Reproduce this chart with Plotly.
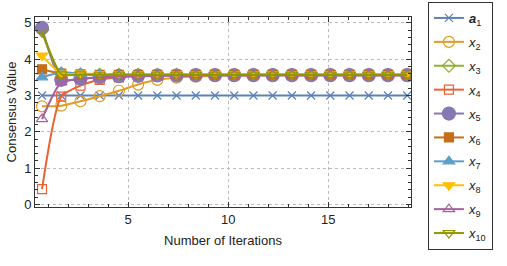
import plotly.graph_objects as go

iterations = [0.70, 1.66, 2.62, 3.58, 4.54, 5.50, 6.46, 7.42, 8.38, 9.34,
              10.30, 11.26, 12.22, 13.18, 14.14, 15.10, 16.06, 17.02, 17.98, 18.94]

a1 = [3.00, 3.00, 3.00, 3.00, 3.00, 3.00, 3.00, 3.00, 3.00, 3.00,
      3.00, 3.00, 3.00, 3.00, 3.00, 3.00, 3.00, 3.00, 3.00, 3.00]
x2 = [2.70, 2.72, 2.84, 2.98, 3.13, 3.30, 3.43, 3.49, 3.52, 3.54,
      3.55, 3.55, 3.56, 3.56, 3.56, 3.56, 3.56, 3.56, 3.56, 3.56]
x3 = [4.80, 3.60, 3.58, 3.57, 3.57, 3.57, 3.57, 3.57, 3.57, 3.57,
      3.57, 3.57, 3.57, 3.57, 3.57, 3.57, 3.57, 3.57, 3.57, 3.57]
x4 = [0.42, 2.97, 3.27, 3.43, 3.50, 3.53, 3.54, 3.55, 3.55, 3.56,
      3.56, 3.56, 3.56, 3.56, 3.56, 3.56, 3.56, 3.56, 3.56, 3.56]
x5 = [4.86, 3.43, 3.46, 3.50, 3.53, 3.54, 3.55, 3.55, 3.56, 3.56,
      3.56, 3.56, 3.56, 3.56, 3.56, 3.56, 3.56, 3.56, 3.56, 3.56]
x6 = [3.72, 3.60, 3.58, 3.57, 3.57, 3.57, 3.57, 3.57, 3.57, 3.57,
      3.57, 3.57, 3.57, 3.57, 3.57, 3.57, 3.57, 3.57, 3.57, 3.57]
x7 = [3.50, 3.64, 3.60, 3.58, 3.57, 3.57, 3.57, 3.57, 3.57, 3.57,
      3.57, 3.57, 3.57, 3.57, 3.57, 3.57, 3.57, 3.57, 3.57, 3.57]
x8 = [4.10, 3.60, 3.60, 3.59, 3.58, 3.58, 3.58, 3.58, 3.58, 3.58,
      3.58, 3.58, 3.58, 3.58, 3.58, 3.58, 3.58, 3.58, 3.58, 3.58]
x9 = [2.35, 3.36, 3.45, 3.50, 3.53, 3.54, 3.55, 3.55, 3.56, 3.56,
      3.56, 3.56, 3.56, 3.56, 3.56, 3.56, 3.56, 3.56, 3.56, 3.56]
x10 = [4.74, 3.58, 3.58, 3.57, 3.57, 3.57, 3.57, 3.57, 3.57, 3.57,
       3.57, 3.57, 3.57, 3.57, 3.57, 3.57, 3.57, 3.57, 3.57, 3.57]

series_names = ["<b><i>a</i></b><sub>1</sub>", "<i>x</i><sub>2</sub>", "<i>x</i><sub>3</sub>",
                "<i>x</i><sub>4</sub>", "<i>x</i><sub>5</sub>", "<i>x</i><sub>6</sub>",
                "<i>x</i><sub>7</sub>", "<i>x</i><sub>8</sub>", "<i>x</i><sub>9</sub>",
                "<i>x</i><sub>10</sub>"]
series_values = [a1, x2, x3, x4, x5, x6, x7, x8, x9, x10]
colors = ["#5E81B5", "#E19C24", "#8FB032", "#EB6235", "#8778B3",
          "#C56E1A", "#5D9EC7", "#FFBF00", "#A5609D", "#929600"]
symbols = ["x-thin-open", "circle-open", "diamond-open", "square-open", "circle",
           "square", "triangle-up", "triangle-down", "triangle-up-open", "triangle-down-open"]
sizes = [8, 11, 10, 9, 13, 9, 10, 10, 10, 10]

fig = go.Figure()
for i, (name, vals, col, sym, sz) in enumerate(zip(series_names, series_values, colors, symbols, sizes)):
    fig.add_trace(go.Scatter(
        x=iterations, y=vals, name=name, mode="lines+markers",
        line=dict(color=col, width=2, shape="spline", smoothing=0.6),
        marker=dict(symbol=sym, size=sz, color=col,
                    line=dict(color=col, width=1.2)),
        legendgroup="g%d" % i,
    ))

axis_common = dict(
    showline=True, linecolor="#333333", linewidth=1, mirror="ticks",
    ticks="inside", ticklen=5, tickcolor="#333333",
    showgrid=True, gridcolor="#BBBBBB", griddash="dot", gridwidth=1,
    zeroline=False,
    tickfont=dict(family="Liberation Sans, Arial", size=13, color="#222222"),
)

fig.update_layout(
    width=507, height=266,
    margin=dict(l=35, r=96, t=17, b=59, autoexpand=False),
    paper_bgcolor="white", plot_bgcolor="white",
    font=dict(family="Liberation Sans, Arial", size=13, color="#222222"),
    xaxis=dict(range=[0.35, 19.13], tickvals=[5, 10, 15],
               minor=dict(dtick=1, tick0=0, ticks="inside", ticklen=3, tickcolor="#333333", showgrid=False),
               title=dict(text="Number of Iterations", standoff=10, font=dict(size=13)),
               **axis_common),
    yaxis=dict(range=[-0.07, 5.16], tickvals=[0, 1, 2, 3, 4, 5],
               minor=dict(dtick=0.2, tick0=0, ticks="inside", ticklen=3, tickcolor="#333333", showgrid=False),
               title=dict(text="Consensus Value", standoff=4, font=dict(size=13)),
               **axis_common),
    legend=dict(x=1.045, y=1.079, xanchor="left", yanchor="top",
                bordercolor="#333333", borderwidth=1, bgcolor="white",
                font=dict(family="Liberation Sans, Arial", size=13),
                itemwidth=30, tracegroupgap=4, maxheight=264),
    showlegend=True,
)

fig.write_html("out.html", config={"displayModeBar": False},
               post_script="document.body.style.margin='0';")
